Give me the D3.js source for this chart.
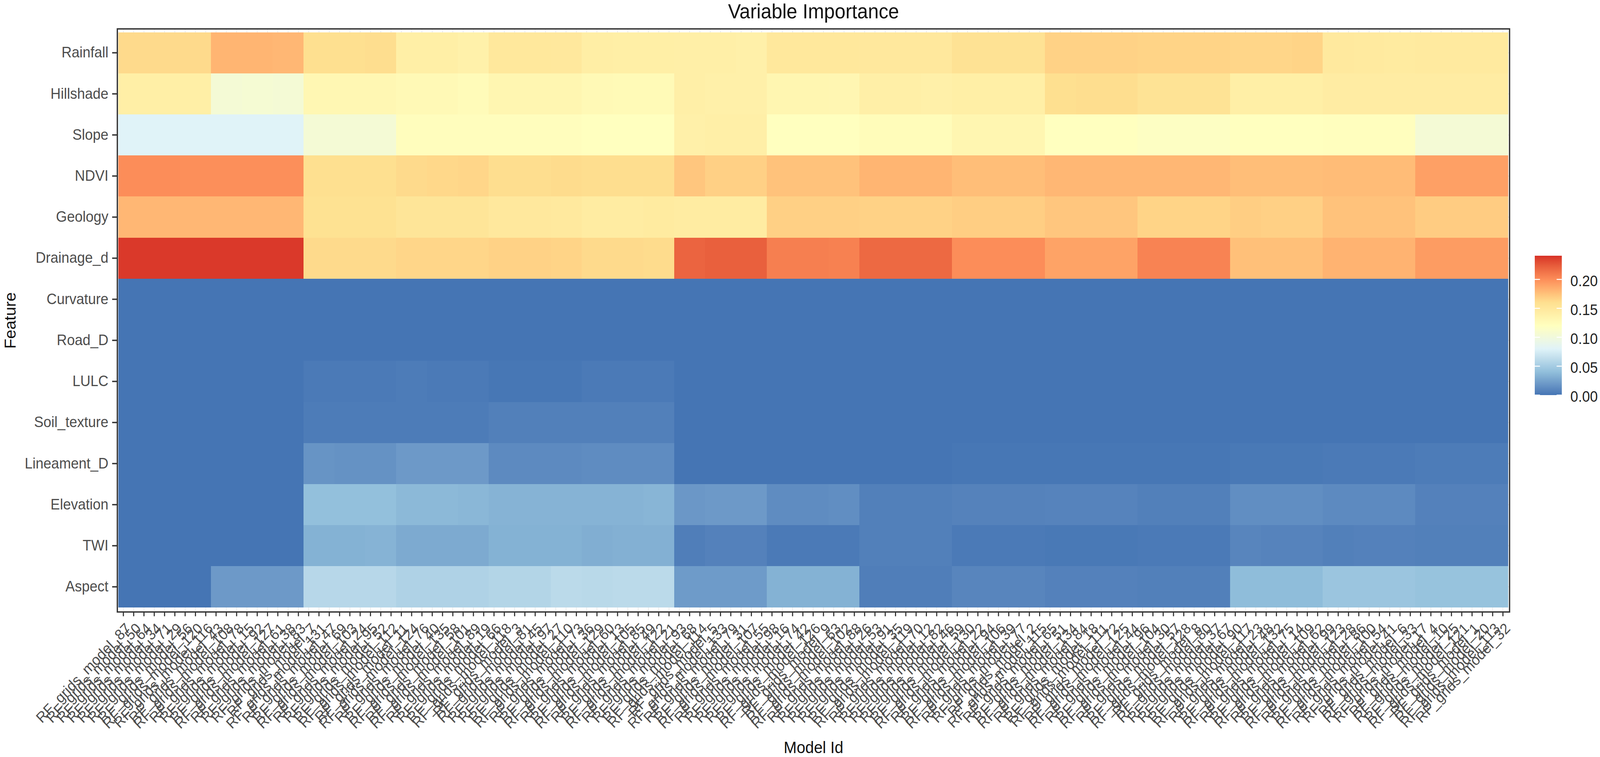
<!DOCTYPE html>
<html>
<head>
<meta charset="utf-8">
<script src="https://cdn.jsdelivr.net/npm/d3@7/dist/d3.min.js"></script>
<style>
  html, body { margin: 0; width: 100%; height: 100%; overflow: hidden; background: #fff; }
  #general { width: 100vw; height: 100vh; }
  svg { display: block; width: 100%; height: 100%; font-family: "Liberation Sans", Arial, sans-serif; }
</style>
</head>
<body>
<div id="general"></div>
<script>
const w = 4317, h = 1939;
const m = {l: 316.6, r: 4073, t: 74, b: 1567.5};

const features = ["Rainfall", "Hillshade", "Slope", "NDVI", "Geology", "Drainage_d", "Curvature",
  "Road_D", "LULC", "Soil_texture", "Lineament_D", "Elevation", "TWI", "Aspect"];

const modelNumbers = [87, 50, 64, 34, 71, 29, 56, 120, 116, 43, 108, 78, 15, 92, 127, 61, 38, 83, 7, 131, 47, 69, 103,
  24, 95, 52, 112, 11, 124, 76, 40, 135, 58, 101, 89, 19, 66, 118, 3, 81, 45, 97, 27, 110, 73, 36, 129, 60, 13, 105,
  85, 49, 122, 21, 93, 68, 114, 5, 133, 79, 31, 107, 55, 98, 16, 74, 42, 126, 9, 63, 102, 88, 26, 53, 91, 35, 119, 70,
  12, 82, 46, 59, 130, 22, 94, 106, 39, 77, 2, 115, 65, 51, 134, 84, 18, 111, 72, 125, 44, 96, 104, 30, 57, 128, 8,
  80, 37, 67, 90, 117, 23, 48, 132, 75, 14, 109, 62, 99, 123, 28, 86, 100, 54, 41, 6, 33, 17, 4, 10, 25, 121, 1, 20,
  113, 32];
const models = modelNumbers.map(d => `RF_grids_model_${d}`);

// importance per group of three neighbouring models (five groups make one block of the picture)
const rainfall = [.163,.163,.163, .181,.181,.180, .160,.160,.161, .141,.141,.138, .150,.150,.149,
  .142,.141,.141, .140,.140,.139, .150,.150,.150, .149,.149,.149, .157,.157,.157,
  .167,.167,.167, .166,.166,.166, .165,.165,.166, .148,.147,.146, .147,.147,.147];
const hillshade = [.141,.141,.141, .105,.106,.105, .130,.130,.130, .128,.128,.125, .132,.132,.132,
  .128,.127,.127, .140,.139,.139, .132,.132,.131, .140,.140,.139, .141,.141,.141,
  .160,.161,.161, .156,.156,.156, .141,.141,.141, .144,.144,.144, .144,.144,.144];
const slope = [.080,.080,.080, .080,.080,.080, .105,.105,.105, .122,.122,.122, .122,.122,.122,
  .120,.120,.120, .139,.140,.140, .120,.120,.120, .124,.124,.124, .132,.132,.132,
  .120,.120,.120, .117,.117,.117, .120,.120,.120, .121,.121,.121, .105,.105,.105];
const ndvi = [.200,.200,.199, .199,.199,.199, .160,.160,.160, .163,.164,.165, .161,.161,.162,
  .161,.161,.161, .173,.168,.168, .175,.175,.175, .181,.181,.181, .177,.177,.177,
  .180,.180,.180, .180,.180,.180, .177,.177,.177, .178,.178,.178, .191,.191,.191];
const geology = [.180,.180,.180, .180,.180,.180, .158,.158,.158, .153,.153,.153, .149,.149,.148,
  .145,.145,.146, .145,.145,.145, .168,.168,.168, .167,.167,.167, .169,.169,.169,
  .173,.173,.173, .166,.166,.166, .169,.168,.168, .175,.175,.175, .170,.170,.170];
const drainage = [.238,.238,.238, .238,.238,.238, .163,.163,.163, .165,.165,.165, .167,.167,.166,
  .163,.163,.162, .220,.222,.222, .207,.207,.206, .218,.218,.218, .200,.200,.200,
  .190,.190,.190, .205,.205,.205, .176,.176,.176, .182,.182,.182, .193,.193,.193];
const curvature = [.000,.000,.000, .000,.000,.000, .000,.000,.000, .000,.000,.000, .000,.000,.000,
  .000,.000,.000, .000,.000,.000, .000,.000,.000, .000,.000,.000, .000,.000,.000,
  .000,.000,.000, .000,.000,.000, .000,.000,.000, .000,.000,.000, .000,.000,.000];
const road = [.000,.000,.000, .000,.000,.000, .000,.000,.000, .000,.000,.000, .000,.000,.000,
  .000,.000,.000, .000,.000,.000, .000,.000,.000, .000,.000,.000, .000,.000,.000,
  .000,.000,.000, .000,.000,.000, .000,.000,.000, .000,.000,.000, .000,.000,.000];
const lulc = [.000,.000,.000, .000,.000,.000, .003,.003,.003, .004,.003,.003, .001,.001,.001,
  .003,.003,.003, .000,.000,.000, .000,.000,.000, .000,.000,.000, .000,.000,.000,
  .000,.000,.000, .000,.000,.000, .000,.000,.000, .000,.000,.000, .000,.000,.000];
const soil = [.000,.000,.000, .000,.000,.000, .004,.004,.004, .004,.004,.004, .006,.006,.006,
  .006,.006,.006, .000,.000,.000, .000,.000,.000, .000,.000,.000, .000,.000,.000,
  .000,.000,.000, .000,.000,.000, .000,.000,.000, .000,.000,.000, .000,.000,.000];
const lineament = [.000,.000,.000, .000,.000,.000, .017,.016,.016, .020,.020,.020, .012,.012,.012,
  .013,.013,.013, .000,.000,.000, .000,.000,.000, .000,.000,.000, .001,.001,.001,
  .001,.001,.001, .001,.001,.001, .002,.002,.002, .003,.003,.003, .004,.004,.004];
const elevation = [.000,.000,.000, .000,.000,.000, .041,.041,.041, .037,.037,.036, .034,.034,.034,
  .034,.034,.035, .019,.020,.020, .013,.013,.014, .006,.006,.006, .0075,.0075,.0075,
  .008,.008,.008, .006,.006,.006, .014,.014,.014, .012,.012,.012, .007,.007,.007];
const twi = [.000,.000,.000, .000,.000,.000, .033,.033,.034, .029,.029,.029, .033,.033,.033,
  .031,.032,.032, .005,.007,.007, .003,.003,.003, .006,.006,.006, .003,.003,.003,
  .002,.002,.002, .003,.003,.003, .009,.008,.008, .006,.007,.007, .006,.006,.006];
const aspect = [.000,.000,.000, .020,.020,.020, .059,.059,.059, .055,.055,.055, .057,.057,.061,
  .060,.061,.061, .021,.021,.021, .033,.033,.033, .005,.005,.005, .009,.009,.009,
  .007,.007,.007, .006,.006,.006, .039,.039,.039, .045,.045,.045, .043,.043,.043];

const importance = [rainfall, hillshade, slope, ndvi, geology, drainage, curvature,
  road, lulc, soil, lineament, elevation, twi, aspect];

const legendTicks = [0, 0.05, 0.10, 0.15, 0.20];
const colorStops = [0, 0.04, 0.08, 0.12, 0.16, 0.20, 0.241];
const colorRange = ["#4575B4", "#91BFDB", "#E0F3F8", "#FFFFBF", "#FEE090", "#FC8D59", "#D73027"];

const color = d3.scaleLinear().domain(colorStops).range(colorRange).interpolate(d3.interpolateLab);

const x = d3.scaleBand().domain(models).range([319, 4069]);
const y = d3.scaleBand().domain(features).range([82.6, 1555.7]);

// fit the window whatever size it really has
const svg = d3.select("#general").append("svg")
  .attr("viewBox", `0 0 ${w} ${h}`)
  .attr("preserveAspectRatio", "none");

svg.append("rect").attr("width", w).attr("height", h).attr("fill", "#fff");

// grid only shows in the small gap around the tiles
const grid = svg.append("g").attr("stroke", "#ebebeb").attr("stroke-width", 2);
grid.selectAll("line.v").data(models).join("line").attr("class", "v")
  .attr("x1", d => x(d) + x.bandwidth() / 2).attr("x2", d => x(d) + x.bandwidth() / 2)
  .attr("y1", m.t).attr("y2", m.b);
grid.selectAll("line.h").data(features).join("line").attr("class", "h")
  .attr("y1", d => y(d) + y.bandwidth() / 2).attr("y2", d => y(d) + y.bandwidth() / 2)
  .attr("x1", m.l).attr("x2", m.r);

const cells = features.flatMap((f, r) => models.map((d, c) => ({f, d, v: importance[r][Math.floor(c / 3)]})));

svg.append("g").attr("shape-rendering", "crispEdges")
  .selectAll("rect")
  .data(cells)
  .join("rect")
  .attr("x", d => x(d.d))
  .attr("y", d => y(d.f))
  .attr("width", x.bandwidth() + 0.5)
  .attr("height", y.bandwidth() + 0.5)
  .attr("fill", d => color(d.v));

svg.append("rect")
  .attr("x", m.l).attr("y", m.t)
  .attr("width", m.r - m.l).attr("height", m.b - m.t)
  .attr("fill", "none").attr("stroke", "#333").attr("stroke-width", 3.5);

const yAxis = svg.append("g")
  .attr("transform", `translate(${m.l},0)`)
  .call(d3.axisLeft(y).tickSize(14).tickPadding(10));
yAxis.select(".domain").remove();
yAxis.selectAll("line").attr("stroke", "#333").attr("stroke-width", 3.5);
yAxis.selectAll("text").attr("font-size", 38).attr("font-family", null).attr("fill", "#4d4d4d");

const xAxis = svg.append("g")
  .attr("transform", `translate(0,${m.b})`)
  .call(d3.axisBottom(x).tickSize(11));
xAxis.select(".domain").remove();
xAxis.selectAll("line").attr("stroke", "#333").attr("stroke-width", 3);
xAxis.selectAll("text")
  .attr("font-size", 38)
  .attr("font-family", null)
  .attr("fill", "#4d4d4d")
  .attr("text-anchor", "end")
  .attr("y", 0).attr("dy", 0)
  .attr("transform", "translate(22,44.5) rotate(-45)");

svg.append("text").text("Variable Importance")
  .attr("x", 2195).attr("y", 47)
  .attr("text-anchor", "middle").attr("font-size", 52).attr("fill", "#111");
svg.append("text").text("Model Id")
  .attr("x", 2195).attr("y", 1929)
  .attr("text-anchor", "middle").attr("font-size", 42).attr("fill", "#111");
svg.append("text").text("Feature")
  .attr("transform", "translate(42,821) rotate(-90)")
  .attr("text-anchor", "middle").attr("font-size", 42).attr("fill", "#111");

// colour bar
const lg = {x: 4141, w: 73, top: 655, bottom: 1012};
const legendY = d3.scaleLinear().domain([0, 0.241]).range([lg.bottom, lg.top]);

const grad = svg.append("defs").append("linearGradient")
  .attr("id", "bar").attr("x1", 0).attr("x2", 0).attr("y1", 1).attr("y2", 0);
grad.selectAll("stop")
  .data(d3.range(0, 0.2411, 0.004))
  .join("stop")
  .attr("offset", d => d / 0.241)
  .attr("stop-color", d => color(d));

svg.append("rect")
  .attr("x", lg.x).attr("y", lg.top)
  .attr("width", lg.w).attr("height", lg.bottom - lg.top)
  .attr("fill", "url(#bar)");

const legendTick = svg.append("g").selectAll("g").data(legendTicks).join("g");
legendTick.append("line")
  .attr("x1", lg.x).attr("x2", lg.x + 14)
  .attr("y1", d => legendY(d)).attr("y2", d => legendY(d))
  .attr("stroke", "#fff").attr("stroke-width", 2.5);
legendTick.append("line")
  .attr("x1", lg.x + lg.w - 14).attr("x2", lg.x + lg.w)
  .attr("y1", d => legendY(d)).attr("y2", d => legendY(d))
  .attr("stroke", "#fff").attr("stroke-width", 2.5);
legendTick.append("text")
  .text(d => d3.format(".2f")(d))
  .attr("x", 4237)
  .attr("y", d => legendY(d) + 17)
  .attr("font-size", 38)
  .attr("fill", "#222");
</script>
</body>
</html>
